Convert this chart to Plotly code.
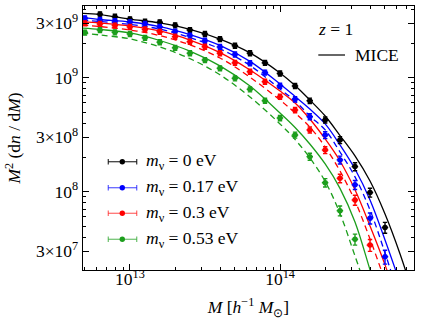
import plotly.graph_objects as go

# ---------------- data ----------------
# halo mass bins [h^-1 Msun]
mass_bins = [5.01e12, 6.31e12, 7.94e12, 1.00e13, 1.26e13, 1.58e13, 2.00e13, 2.51e13,
             3.16e13, 3.98e13, 5.01e13, 6.31e13, 7.94e13, 1.00e14, 1.26e14, 1.58e14,
             2.00e14, 2.51e14, 3.16e14, 3.98e14, 5.01e14]

# simulation points M^2 dn/dM
pts_0 = [3.60e9, 3.43e9, 3.25e9, 3.10e9, 3.06e9, 2.88e9, 2.62e9, 2.42e9, 2.18e9, 1.91e9,
         1.64e9, 1.35e9, 1.09e9, 8.46e8, 6.28e8, 4.26e8, 2.84e8, 1.66e8, 9.84e7, 4.85e7]
pts_017 = [3.32e9, 3.21e9, 3.14e9, 3.06e9, 2.96e9, 2.79e9, 2.54e9, 2.34e9, 2.11e9, 1.86e9,
           1.60e9, 1.34e9, 1.11e9, 8.51e8, 6.47e8, 4.55e8, 3.14e8, 1.90e8, 1.15e8, 5.85e7, 2.69e7]
pts_03 = [3.00e9, 2.96e9, 2.87e9, 2.79e9, 2.65e9, 2.53e9, 2.29e9, 2.07e9, 1.87e9, 1.64e9,
          1.35e9, 1.13e9, 9.23e8, 6.81e8, 5.21e8, 3.48e8, 2.32e8, 1.31e8, 8.46e7, 3.40e7]
pts_053 = [2.49e9, 2.62e9, 2.50e9, 2.42e9, 2.24e9, 2.05e9, 1.83e9, 1.64e9, 1.43e9, 1.21e9,
           9.88e8, 7.91e8, 6.28e8, 4.43e8, 3.14e8, 2.03e8, 1.20e8, 6.81e7, 3.82e7]

# relative errors (percent)
err_0 = [5, 5, 5, 5, 5, 5, 5, 5, 5, 5, 5, 5, 5, 5, 5.5, 6, 7, 8, 9, 11]
err_017 = [5, 5, 5, 5, 5, 5, 5, 5, 5, 5, 5, 5, 5, 5, 5.5, 6, 7, 8, 9, 11, 14]
err_03 = [5, 5, 5, 5, 5, 5, 5, 5, 5, 5, 5, 5, 5, 5, 5.5, 6, 7, 8.5, 10, 12]
err_053 = [5, 5, 5, 5, 5, 5, 5, 5, 5, 5, 5, 5, 5, 5.5, 6, 7, 8.5, 10, 11]
mass_err_pct = 5

# theory curves
curve_mass = [4.79e12, 6.31e12, 1.00e13, 1.58e13, 2.51e13, 3.98e13, 6.31e13, 1.00e14, 1.26e14,
              1.58e14, 2.00e14, 2.51e14, 3.16e14, 3.98e14, 5.01e14, 6.31e14, 7.94e14]
mice_0 = [3.67e9, 3.58e9, 3.27e9, 3.02e9, 2.65e9, 2.18e9, 1.65e9, 1.10e9, 8.54e8,
          6.37e8, 4.61e8, 3.11e8, 2.06e8, 1.24e8, 6.37e7, 2.84e7, 1.12e7]
mice_017 = [3.37e9, 3.24e9, 3.08e9, 2.81e9, 2.39e9, 1.92e9, 1.39e9, 8.81e8, 6.84e8,
            5.31e8, 3.93e8, 2.57e8, 1.58e8, 8.45e7, 3.77e7, 1.58e7]
alt_017 = [3.21e9, 3.11e9, 2.93e9, 2.67e9, 2.25e9, 1.79e9, 1.28e9, 7.96e8, 6.25e8,
           4.61e8, 3.48e8, 2.23e8, 1.35e8, 6.91e7, 2.90e7, 1.12e7]
mice_03 = [3.11e9, 3.02e9, 2.84e9, 2.57e9, 2.14e9, 1.66e9, 1.17e9, 7.64e8, 6.00e8,
           4.34e8, 2.90e8, 1.86e8, 1.04e8, 5.00e7, 2.28e7, 9.16e6]
alt_03 = [2.90e9, 2.81e9, 2.62e9, 2.34e9, 1.94e9, 1.49e9, 1.01e9, 6.37e8, 4.90e8,
          3.69e8, 2.47e8, 1.52e8, 8.29e7, 3.85e7, 1.68e7, 8.29e6]
mice_053 = [2.73e9, 2.65e9, 2.47e9, 2.12e9, 1.71e9, 1.27e9, 8.46e8, 4.90e8, 3.66e8,
            2.62e8, 1.75e8, 1.07e8, 5.42e7, 2.06e7, 7.50e6]
alt_053 = [2.47e9, 2.37e9, 2.19e9, 1.86e9, 1.47e9, 1.06e9, 6.77e8, 3.93e8, 2.87e8,
           1.98e8, 1.23e8, 6.44e7, 2.73e7, 1.12e7]

labels = ["0", "0.17", "0.3", "0.53"]
x_tickvals = [1e13, 1e14]
x_ticktext = ["10<sup>13</sup>", "10<sup>14</sup>"]
y_tickvals = [3e7, 1e8, 3e8, 1e9, 3e9]
y_ticktext = ["3×10<sup>7</sup>", "10<sup>8</sup>", "3×10<sup>8</sup>", "10<sup>9</sup>", "3×10<sup>9</sup>"]
x_minor = [5e12, 6e12, 7e12, 8e12, 9e12, 2e13, 3e13, 4e13, 5e13, 6e13, 7e13, 8e13, 9e13,
           2e14, 3e14, 4e14, 5e14, 6e14, 7e14]
y_minor = [2e7, 4e7, 5e7, 6e7, 7e7, 8e7, 9e7, 2e8, 4e8, 5e8, 6e8, 7e8, 8e8, 9e8, 2e9, 4e9]

# ---------------- styling ----------------
FONT = "Liberation Serif"
FS = 17.5
colors = ["#000000", "#0000ff", "#ff0000", "#1c9e1c"]
light = ["rgba(0,0,0,0.75)", "rgba(0,0,255,0.6)", "rgba(255,0,0,0.55)", "rgba(28,158,28,0.6)"]

W, H = 421, 334
L_, R_, T_, B_ = 83, 7, 6, 64
PW, PH = W - L_ - R_, H - T_ - B_


def px(x):
    return (x - L_) / PW


def py(y):
    return (H - B_ - y) / PH


fig = go.Figure()

# curves
curve_sets = [
    (mice_0, None),
    (mice_017, alt_017),
    (mice_03, alt_03),
    (mice_053, alt_053),
]
for c, (solid, dashed) in zip(colors, curve_sets):
    if dashed is not None:
        fig.add_trace(go.Scatter(x=curve_mass[:len(dashed)], y=dashed, mode="lines",
                                 line=dict(color=c, width=1.3, dash="6px,4px", shape="spline"),
                                 showlegend=False, hoverinfo="skip"))
    fig.add_trace(go.Scatter(x=curve_mass[:len(solid)], y=solid, mode="lines",
                             line=dict(color=c, width=1.3, shape="spline"),
                             showlegend=False, hoverinfo="skip"))

# points
pt_sets = [
    (mass_bins[1:], pts_0, err_0),
    (mass_bins, pts_017, err_017),
    (mass_bins[:len(pts_03)], pts_03, err_03),
    (mass_bins[:len(pts_053)], pts_053, err_053),
]
for c, lab, (xs, ys, es) in zip(colors, labels, pt_sets):
    fig.add_trace(go.Scatter(
        x=xs, y=ys, mode="markers",
        marker=dict(color=c, size=5.5),
        error_y=dict(type="data", array=[v * e / 100 for v, e in zip(ys, es)],
                     color=c, thickness=1.4, width=2.2),
        error_x=dict(type="percent", value=mass_err_pct, color=c, thickness=1.4, width=0),
        name="m_ν = %s eV" % lab, showlegend=False))

shapes = []
annotations = []

# custom legend (points with error bars)
rows = [161.7, 187.7, 213.3, 239.3]
for c, lc, lab, yy in zip(colors, light, labels, rows):
    shapes.append(dict(type="line", xref="paper", yref="paper", x0=px(108.3), x1=px(136.7),
                       y0=py(yy), y1=py(yy), line=dict(color=lc, width=1.3)))
    for xc in (108.3, 136.7):
        shapes.append(dict(type="line", xref="paper", yref="paper", x0=px(xc), x1=px(xc),
                           y0=py(yy - 2.8), y1=py(yy + 2.8), line=dict(color=lc, width=1.3)))
    shapes.append(dict(type="circle", xref="paper", yref="paper", x0=px(122.3 - 2.7), x1=px(122.3 + 2.7),
                       y0=py(yy + 2.7), y1=py(yy - 2.7), fillcolor=c, line=dict(color=c, width=0)))
    annotations.append(dict(xref="paper", yref="paper", x=px(144), y=py(yy), xanchor="left",
                            yanchor="middle", showarrow=False,
                            text="<i>m</i><sub>ν</sub> = %s eV" % lab,
                            font=dict(family=FONT, size=FS, color="black")))

# z label and MICE legend
annotations.append(dict(xref="paper", yref="paper", x=px(316), y=py(29), xanchor="left",
                        yanchor="middle", showarrow=False, text="<i>z</i> = 1",
                        font=dict(family=FONT, size=FS, color="black")))
shapes.append(dict(type="line", xref="paper", yref="paper", x0=px(318.3), x1=px(345),
                   y0=py(55), y1=py(55), line=dict(color="black", width=1.2)))
annotations.append(dict(xref="paper", yref="paper", x=px(353), y=py(55), xanchor="left",
                        yanchor="middle", showarrow=False, text="MICE",
                        font=dict(family=FONT, size=FS, color="black")))

axis_common = dict(type="log", ticks="inside", ticklen=6, tickwidth=1, tickcolor="black",
                   showline=True, linecolor="black", linewidth=1.3, mirror="ticks",
                   showgrid=False, zeroline=False,
                   tickfont=dict(family=FONT, size=FS, color="black"))

fig.update_xaxes(**axis_common, range=[12.687, 14.893], tickvals=x_tickvals, ticktext=x_ticktext,
                 ticklabelstandoff=-7,
                 minor=dict(tickvals=x_minor, ticks="inside", ticklen=3, tickcolor="black",
                            showgrid=False),
                 title=dict(text="<i>M</i> [<i>h</i><sup>−1</sup> <i>M</i><sub>⊙</sub>]",
                            font=dict(family=FONT, size=FS, color="black"), standoff=12))
fig.update_yaxes(**axis_common, range=[7.313, 9.629], tickvals=y_tickvals, ticktext=y_ticktext,
                 minor=dict(tickvals=y_minor, ticks="inside", ticklen=3, tickcolor="black",
                            showgrid=False),
                 title=dict(text="<i>M</i><sup>2</sup> (d<i>n</i> / d<i>M</i>)",
                            font=dict(family=FONT, size=FS, color="black"), standoff=10))

fig.update_layout(width=W, height=H, margin=dict(l=L_, r=R_, t=T_, b=B_, autoexpand=False),
                  paper_bgcolor="white", plot_bgcolor="white", showlegend=False,
                  hovermode=False,
                  shapes=shapes, annotations=annotations,
                  font=dict(family=FONT, size=FS, color="black"))

fig.write_html("out.html", config={"displayModeBar": False, "staticPlot": True},
               post_script="document.body.style.margin='0px';")
